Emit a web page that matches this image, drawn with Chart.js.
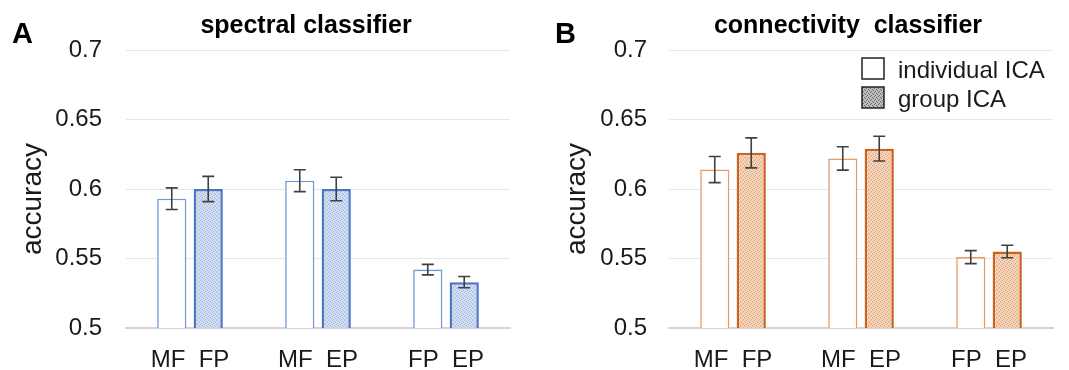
<!DOCTYPE html>
<html>
<head>
<meta charset="utf-8">
<script src="https://cdn.jsdelivr.net/npm/chart.js@4"></script>
<style>
  body { margin: 0; background: #fff; }
  .panel { position: absolute; top: 0; height: 370px; }
  #panel-a { left: 0; width: 534px; }
  #panel-b { left: 534px; width: 535px; }
</style>
</head>
<body>
<div class="panel" id="panel-a"><canvas id="chart-a"></canvas></div>
<div class="panel" id="panel-b"><canvas id="chart-b"></canvas></div>
<script>
// Catégories (deux conditions par groupe de barres)
const categories = ['MF  FP', 'MF  EP', 'FP  EP'];
const yTickValues = [0.5, 0.55, 0.6, 0.65, 0.7];
const legendLabels = ['individual ICA', 'group ICA'];

// Panneau A : spectral classifier
const spectralIndividual = [0.593, 0.606, 0.542];
const spectralGroup = [0.600, 0.600, 0.533];
const spectralIndividualErr = [0.0078, 0.0079, 0.0038];
const spectralGroupErr = [0.0091, 0.0085, 0.0040];

// Panneau B : connectivity classifier
const connectivityIndividual = [0.614, 0.622, 0.551];
const connectivityGroup = [0.626, 0.629, 0.555];
const connectivityIndividualErr = [0.0094, 0.0084, 0.0047];
const connectivityGroupErr = [0.0108, 0.0089, 0.0045];

const FONT = '"Liberation Sans", Arial, Helvetica, sans-serif';
Chart.defaults.font.family = FONT;
Chart.defaults.color = '#1a1a1a';

/**
 * Petit motif pointillé pour les barres "group ICA"
 */
function makePattern(base, dot) {
    const c = document.createElement('canvas');
    c.width = 4;
    c.height = 4;
    const g = c.getContext('2d');
    g.fillStyle = base;
    g.fillRect(0, 0, 4, 4);
    g.fillStyle = dot;
    [[0, 0], [2, 1], [1, 3], [3, 2]].forEach(([px, py]) => g.fillRect(px, py, 1, 1));
    return g.createPattern(c, 'repeat');
}

// Barres d'erreur dessinées au-dessus des barres
const errorBarPlugin = {
    id: 'errorBars',
    afterDatasetsDraw(chart) {
        const ctx = chart.ctx;
        const yScale = chart.scales.y;
        ctx.save();
        ctx.strokeStyle = '#404040';
        ctx.lineWidth = 1.6;
        chart.data.datasets.forEach((ds, i) => {
            const meta = chart.getDatasetMeta(i);
            meta.data.forEach((bar, j) => {
                const v = ds.data[j];
                const e = ds.errors[j];
                const yTop = yScale.getPixelForValue(v + e);
                const yBot = yScale.getPixelForValue(v - e);
                ctx.beginPath();
                ctx.moveTo(bar.x, yTop);
                ctx.lineTo(bar.x, yBot);
                ctx.moveTo(bar.x - 6, yTop);
                ctx.lineTo(bar.x + 6, yTop);
                ctx.moveTo(bar.x - 6, yBot);
                ctx.lineTo(bar.x + 6, yBot);
                ctx.stroke();
            });
        });
        ctx.restore();
    }
};

// Lettre du panneau, titre, titre d'axe et légende éventuelle
const decorPlugin = {
    id: 'decor',
    afterDraw(chart, args, opts) {
        const ctx = chart.ctx;
        ctx.save();
        ctx.fillStyle = '#000';
        ctx.textBaseline = 'alphabetic';

        ctx.font = 'bold 29px ' + FONT;
        ctx.textAlign = 'left';
        ctx.fillText(opts.letter, opts.letterX, 43);

        ctx.font = 'bold 25px ' + FONT;
        ctx.textAlign = 'center';
        ctx.fillText(opts.title, opts.titleX, 33);

        ctx.save();
        ctx.translate(opts.axisTitleX, 199);
        ctx.rotate(-Math.PI / 2);
        ctx.font = '28px ' + FONT;
        ctx.textAlign = 'center';
        ctx.textBaseline = 'middle';
        ctx.fillStyle = '#1a1a1a';
        ctx.fillText('accuracy', 0, 0);
        ctx.restore();

        if (opts.legend) {
            const lx = opts.legendX;
            const fills = ['#ffffff', makePattern('#bdbdbd', '#6a6a6a')];
            const tops = [58, 87];
            ctx.font = '24px ' + FONT;
            ctx.textAlign = 'left';
            legendLabels.forEach((label, i) => {
                ctx.fillStyle = fills[i];
                ctx.fillRect(lx, tops[i], 22, 21);
                ctx.strokeStyle = '#222';
                ctx.lineWidth = 1.5;
                ctx.strokeRect(lx, tops[i], 22, 21);
                ctx.fillStyle = '#1a1a1a';
                ctx.fillText(label, lx + 36, tops[i] + 20);
            });
        }
        ctx.restore();
    }
};

/**
 * Crée un panneau de graphique à barres groupées
 */
function createPanel(canvasId, cfg) {
    const ctx = document.getElementById(canvasId);
    return new Chart(ctx, {
        type: 'bar',
        data: {
            labels: categories,
            datasets: [
                {
                    label: legendLabels[0],
                    data: cfg.individual,
                    errors: cfg.individualErr,
                    backgroundColor: '#ffffff',
                    borderColor: cfg.lightBorder,
                    borderWidth: 1.6
                },
                {
                    label: legendLabels[1],
                    data: cfg.group,
                    errors: cfg.groupErr,
                    backgroundColor: makePattern(cfg.patternBase, cfg.patternDot),
                    borderColor: cfg.darkBorder,
                    borderWidth: 2.5
                }
            ]
        },
        options: {
            responsive: true,
            maintainAspectRatio: false,
            animation: false,
            datasets: {
                bar: {
                    categoryPercentage: 0.57,
                    barPercentage: 0.8
                }
            },
            layout: {
                padding: { top: 50, right: cfg.rightPad, bottom: 0, left: 0 }
            },
            scales: {
                x: {
                    grid: { display: false },
                    border: { color: '#d4d4d4', width: 2 },
                    ticks: {
                        autoSkip: false,
                        maxRotation: 0,
                        padding: 10,
                        color: '#1a1a1a',
                        font: { size: 24 }
                    },
                    afterFit(scale) { scale.height = 42; }
                },
                y: {
                    min: 0.5,
                    max: 0.7,
                    afterBuildTicks(scale) {
                        scale.ticks = yTickValues.map(v => ({ value: v }));
                    },
                    grid: {
                        color: '#e6e6e6',
                        lineWidth: 1,
                        drawTicks: false
                    },
                    border: { display: false },
                    ticks: {
                        padding: cfg.tickPad,
                        color: '#1a1a1a',
                        font: { size: 24 },
                        callback: v => String(+v.toFixed(2))
                    },
                    afterFit(scale) { scale.width = cfg.leftEdge; }
                }
            },
            plugins: {
                legend: { display: false },
                tooltip: { enabled: false },
                decor: cfg.decor
            }
        },
        plugins: [errorBarPlugin, decorPlugin]
    });
}

createPanel('chart-a', {
    individual: spectralIndividual,
    group: spectralGroup,
    individualErr: spectralIndividualErr,
    groupErr: spectralGroupErr,
    lightBorder: '#7097da',
    darkBorder: '#4a76c6',
    patternBase: '#d2ddf2',
    patternDot: '#a3b8e2',
    leftEdge: 126,
    rightPad: 24,
    tickPad: 24,
    decor: {
        letter: 'A', letterX: 12,
        title: 'spectral classifier', titleX: 306,
        axisTitleX: 33,
        legend: false
    }
});

createPanel('chart-b', {
    individual: connectivityIndividual,
    group: connectivityGroup,
    individualErr: connectivityIndividualErr,
    groupErr: connectivityGroupErr,
    lightBorder: '#e59c69',
    darkBorder: '#c9631f',
    patternBase: '#f4d5bc',
    patternDot: '#e0a57a',
    leftEdge: 135,
    rightPad: 16,
    tickPad: 22,
    decor: {
        letter: 'B', letterX: 21,
        title: 'connectivity  classifier', titleX: 314,
        axisTitleX: 43,
        legend: true, legendX: 328
    }
});
</script>
</body>
</html>
